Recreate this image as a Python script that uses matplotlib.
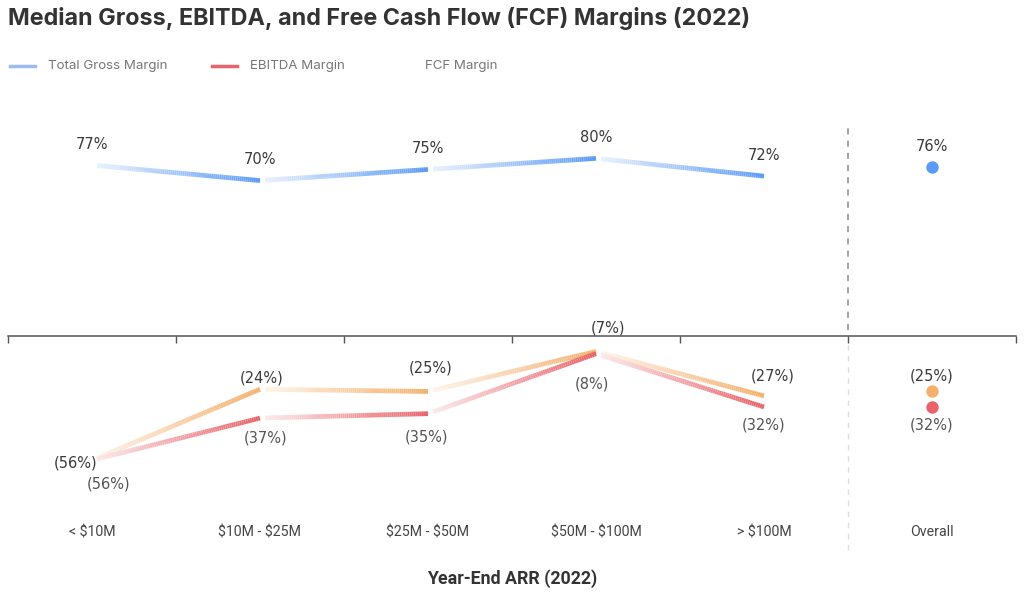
import numpy as np
import matplotlib.pyplot as plt
from matplotlib.collections import LineCollection
from matplotlib.colors import to_rgb
from matplotlib.lines import Line2D

plt.rcParams['text.parse_math'] = False

categories = ['< $10M', '$10M - $25M', '$25M - $50M', '$50M - $100M', '> $100M']
overall_label = 'Overall'
gross_margin = [77, 70, 75, 80, 72]
ebitda_margin = [-56, -37, -35, -8, -32]
fcf_margin = [-56, -24, -25, -7, -27]
overall_gross = 76
overall_ebitda = -32
overall_fcf = -25

BLUE = '#5B9BF5'
RED = '#E8646A'
ORANGE = '#F4B06C'
TXT = '#3a3a3a'

# label offsets in points (x, y)
fcf_offsets = [(-12, -2), (1, 8), (2, 17), (9, 17), (6, 14)]
ebitda_offsets = [(12, -17), (4, -14), (-1, -17), (-3, -22), (0, -13)]


def fade_line(ax, xs, ys, color, lw=3.4, n=80):
    # each segment fades in from near-white to full colour
    rgb = np.array(to_rgb(color))
    for i in range(len(xs) - 1):
        t = 0.03 + 0.97 * np.linspace(0, 1, n + 1)
        px = xs[i] + (xs[i + 1] - xs[i]) * t
        py = ys[i] + (ys[i + 1] - ys[i]) * t
        pts = np.column_stack([px, py]).reshape(-1, 1, 2)
        segs = np.concatenate([pts[:-1], pts[1:]], axis=1)
        k = np.linspace(0.15, 1, n)
        cols = [tuple(1 - (1 - rgb) * kk) for kk in k]
        lc = LineCollection(segs, colors=cols, linewidths=lw, capstyle='butt', zorder=3)
        ax.add_collection(lc)


def fmt(v):
    return f'{v}%' if v >= 0 else f'({abs(v)}%)'


fig = plt.figure(figsize=(10.24, 5.97), dpi=100)
fig.patch.set_facecolor('white')
ax = fig.add_axes([8 / 1024, 87 / 597, 1008 / 1024, 410 / 597])
ax.set_xlim(-0.5, 5.5)
ax.set_ylim(-78.4, 106.3)

x = np.arange(len(categories))
fade_line(ax, x, gross_margin, BLUE)
fade_line(ax, x, fcf_margin, ORANGE)
fade_line(ax, x, ebitda_margin, RED)

ax.scatter([5], [overall_gross], s=80, color=BLUE, zorder=4, linewidths=0)
ax.scatter([5], [overall_fcf], s=80, color=ORANGE, zorder=4, linewidths=0)
ax.scatter([5], [overall_ebitda], s=80, color=RED, zorder=4, linewidths=0)

for i, v in enumerate(gross_margin + [overall_gross]):
    ax.annotate(fmt(v), (i, v), xytext=(0, 15), textcoords='offset points',
                ha='center', va='center', fontsize=10.5, color=TXT)
for i, v in enumerate(fcf_margin):
    ax.annotate(fmt(v), (i, v), xytext=fcf_offsets[i], textcoords='offset points',
                ha='center', va='center', fontsize=10.5, color=TXT)
for i, v in enumerate(ebitda_margin):
    ax.annotate(fmt(v), (i, v), xytext=ebitda_offsets[i], textcoords='offset points',
                ha='center', va='center', fontsize=10.5, color='#555')
ax.annotate(fmt(overall_fcf), (5, overall_fcf), xytext=(0, 11), textcoords='offset points',
            ha='center', va='center', fontsize=10.5, color=TXT)
ax.annotate(fmt(overall_ebitda), (5, overall_ebitda), xytext=(0, -13), textcoords='offset points',
            ha='center', va='center', fontsize=10.5, color='#555')

# divider before "Overall"
ax.axvline(4.5, ymin=0.439, ymax=0.939, ls=(0, (4, 4)), color='#8a8a8a', lw=1.1)
ax.axvline(4.5, ymin=-0.098, ymax=0.402, ls=(0, (4, 4)), color='#dddddd', lw=1.0, clip_on=False)

# zero line with boundary ticks
for s in ['top', 'left', 'right']:
    ax.spines[s].set_visible(False)
ax.spines['bottom'].set_position(('data', 0))
ax.spines['bottom'].set_color('#555555')
ax.spines['bottom'].set_linewidth(1.1)
ax.set_xticks(np.arange(-0.5, 6, 1))
ax.set_xticklabels([])
ax.tick_params(axis='x', length=5, width=1.0, color='#555555', direction='out')
ax.set_yticks([])
ax.patch.set_alpha(0)

lab_font = ['Roboto', 'DejaVu Sans']
sec = ax.secondary_xaxis('bottom')
sec.set_xticks(range(6))
sec.set_xticklabels(categories + [overall_label], fontsize=10.2, color='#444444', family=lab_font)
sec.tick_params(length=0, pad=11)
sec.spines['bottom'].set_visible(False)

fig.text(512 / 1024, 1 - 579 / 597, 'Year-End ARR (2022)', ha='center', va='center',
         fontsize=12.8, fontweight='bold', color='#333333', family=lab_font)

fig.text(8 / 1024, 1 - 18 / 597, 'Median Gross, EBITDA, and Free Cash Flow (FCF) Margins (2022)',
         ha='left', va='center', fontsize=16.8, fontweight='bold', color='#333333',
         family=['Inter', 'DejaVu Sans'])

# legend
leg_y = 1 - 66 / 597
leg_font = ['Inter', 'DejaVu Sans']
fig.add_artist(Line2D([10 / 1024, 35 / 1024], [leg_y, leg_y], color='#9BBDF2', lw=2.5))
fig.text(48 / 1024, leg_y, 'Total Gross Margin', ha='left', va='center', fontsize=9.6,
         color='#777777', family=leg_font)
fig.add_artist(Line2D([212 / 1024, 237 / 1024], [leg_y, leg_y], color=RED, lw=2.5))
fig.text(250 / 1024, leg_y, 'EBITDA Margin', ha='left', va='center', fontsize=9.6,
         color='#777777', family=leg_font)
fig.text(425 / 1024, leg_y, 'FCF Margin', ha='left', va='center', fontsize=9.6,
         color='#777777', family=leg_font)

fig.savefig('out.png', dpi=100, facecolor='white')
